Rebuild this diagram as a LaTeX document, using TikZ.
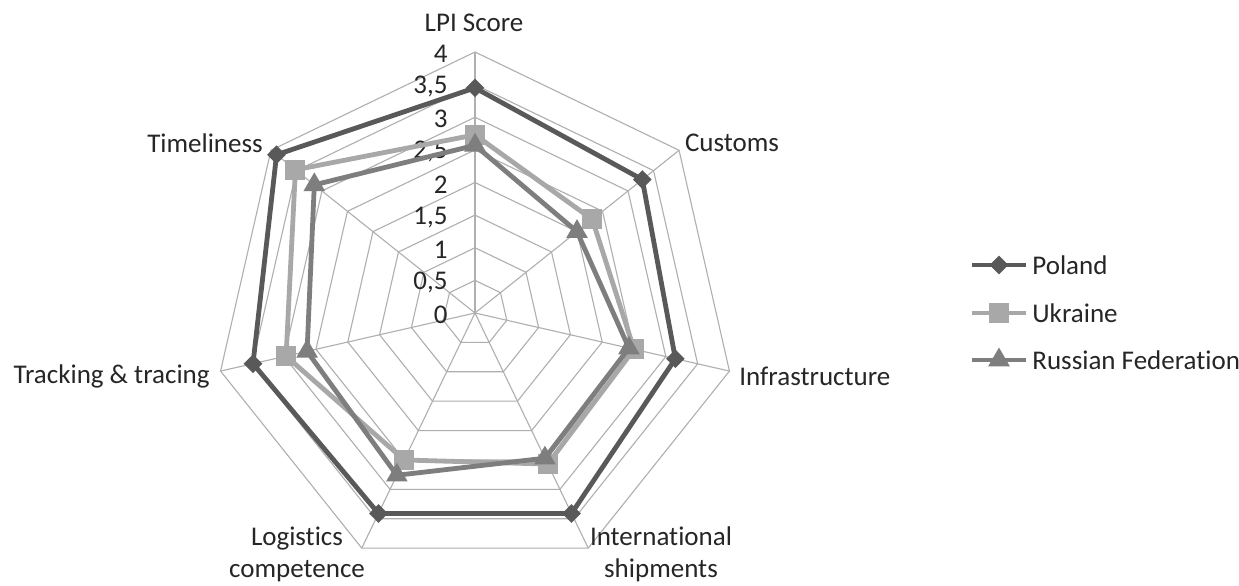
\documentclass[tikz,border=0pt]{standalone}
\usepackage{fontspec}
\setmainfont{Carlito}[Ligatures={NoCommon}]
\usetikzlibrary{shapes.geometric}
\definecolor{polc}{RGB}{89,89,89}
\definecolor{ukrc}{RGB}{168,168,168}
\definecolor{rusc}{RGB}{126,126,126}
\definecolor{gridc}{RGB}{175,175,175}
\begin{document}
\begin{tikzpicture}[x=0.5pt,y=0.5pt,
  font=\fontsize{13.5}{16}\selectfont,
  gridline/.style={draw=gridc, line width=0.55pt},
  serline/.style={line width=2.4pt, line join=round},
  polline/.style={serline, draw=polc},
  ukrline/.style={serline, draw=ukrc},
  rusline/.style={serline, draw=rusc},
  polmark/.style={diamond, fill=polc, inner sep=0pt, minimum width=9.5pt, minimum height=9.5pt},
  ukrmark/.style={rectangle, fill=ukrc, inner sep=0pt, minimum size=10pt},
  rusmark/.style={regular polygon, regular polygon sides=3, fill=rusc, inner sep=0pt, minimum size=12.5pt},
  ticklab/.style={anchor=east, inner sep=0pt, text=black!85},
  axlab/.style={align=center, inner sep=0pt, text=black!85}]
\useasboundingbox (0,0) rectangle (1239,585);
\fill[white] (0,0) rectangle (1239,585);
\coordinate (c) at (475,272);
\begin{scope}[shift={(475,272)}]
  \foreach \k in {0,...,6} { \coordinate (a\k) at ({90-\k*360/7}:261); }
  \foreach \lv in {1,...,8} {
    \draw[gridline] (90:\lv*32.625) \foreach \k in {1,...,6}{ -- ({90-\k*360/7}:\lv*32.625)} -- cycle;
  }
  \foreach \k in {0,...,6} { \draw[gridline] (c) -- (a\k); }
  \foreach \v [count=\k from 0] in {3.45,3.28,3.15,3.41,3.41,3.49,3.89}
    { \coordinate (P\k) at ({90-\k*360/7}:\v*65.25); }
  \foreach \v [count=\k from 0] in {2.73,2.30,2.50,2.57,2.50,2.97,3.52}
    { \coordinate (U\k) at ({90-\k*360/7}:\v*65.25); }
  \foreach \v [count=\k from 0] in {2.57,2.00,2.42,2.47,2.76,2.64,3.15}
    { \coordinate (R\k) at ({90-\k*360/7}:\v*65.25); }
\end{scope}
% tick labels
\foreach \t [count=\i from 0] in {0,{0,5},1,{1,5},2,{2,5},3,{3,5},4}
  { \node[ticklab] (tk\i) at (448,{270+\i*32.625}) {\t}; }
% series
\draw[polline] (P0)--(P1)--(P2)--(P3)--(P4)--(P5)--(P6)--cycle;
\foreach \k in {0,...,6} { \node[polmark] (Pm\k) at (P\k) {}; }
\draw[ukrline] (U0)--(U1)--(U2)--(U3)--(U4)--(U5)--(U6)--cycle;
\foreach \k in {0,...,6} { \node[ukrmark] (Um\k) at (U\k) {}; }
\draw[rusline] (R0)--(R1)--(R2)--(R3)--(R4)--(R5)--(R6)--cycle;
\foreach \k in {0,...,6} { \node[rusmark] (Rm\k) at (R\k) {}; }
% axis labels
\node[axlab] (lpi) at (474,562) {LPI Score};
\node[axlab] (cus) at (732,442) {Customs};
\node[axlab, anchor=west] (inf) at (739,209) {Infrastructure};
\node[axlab] (ins) at (661,31) {International\\shipments};
\node[axlab] (log) at (297,31) {Logistics\\competence};
\node[axlab, anchor=east] (trk) at (210,209) {Tracking \& tracing};
\node[axlab] (tml) at (205,442) {Timeliness};
% legend
\coordinate (l1a) at (972,320); \coordinate (l1b) at (1026,320);
\coordinate (l2a) at (972,272); \coordinate (l2b) at (1026,272);
\coordinate (l3a) at (972,225); \coordinate (l3b) at (1026,225);
\draw[polline] (l1a) -- (l1b);
\node[polmark] (lm1) at (999,320) {};
\node[axlab, anchor=west] (lt1) at (1032,320) {Poland};
\draw[ukrline] (l2a) -- (l2b);
\node[ukrmark] (lm2) at (999,272) {};
\node[axlab, anchor=west] (lt2) at (1032,272) {Ukraine};
\draw[rusline] (l3a) -- (l3b);
\node[rusmark] (lm3) at (999,225) {};
\node[axlab, anchor=west] (lt3) at (1032,225) {Russian Federation};
\end{tikzpicture}
\end{document}
